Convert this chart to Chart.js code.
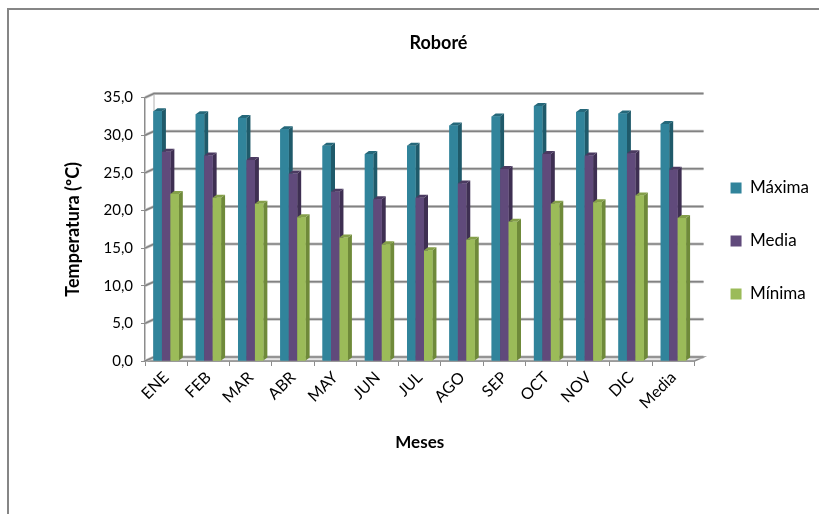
<!DOCTYPE html>
<html>
<head>
<meta charset="utf-8">
<script src="https://cdn.jsdelivr.net/npm/chart.js@4.4.1/dist/chart.umd.min.js"></script>
<style>
  html, body { margin: 0; padding: 0; background: #ffffff; }
  #wrap { width: 819px; height: 514px; position: relative; }
</style>
</head>
<body>
<div id="wrap"><canvas id="c" width="819" height="514"></canvas></div>
<script>
// Monthly temperatures for Roboré (ºC)
const categories = ['ENE', 'FEB', 'MAR', 'ABR', 'MAY', 'JUN', 'JUL', 'AGO', 'SEP', 'OCT', 'NOV', 'DIC', 'Media'];
const maxima = [33.2, 32.8, 32.3, 30.8, 28.6, 27.5, 28.6, 31.3, 32.5, 33.9, 33.1, 32.9, 31.5];
const media  = [27.8, 27.3, 26.7, 24.9, 22.5, 21.5, 21.7, 23.6, 25.5, 27.5, 27.3, 27.6, 25.4];
const minima = [22.2, 21.7, 20.9, 19.1, 16.4, 15.5, 14.7, 16.1, 18.5, 20.9, 21.1, 22.0, 19.0];
const seriesNames = ['Máxima', 'Media', 'Mínima'];

const FONT = 'Lato, "Liberation Sans", sans-serif';
const frontColors = ['#31849b', '#604a7b', '#9bbb59'];
const sideColors  = ['#1f5a6a', '#3e2f52', '#6f8a3a'];
const capColors   = ['#25687a', '#4b3a61', '#849f49'];
const DX = 9, DY = -4;   // depth offset of the 3D walls
const BD = 4, BDY = -3;  // depth offset of each column

// Frame around the chart (left and top edges)
const framePlugin = {
  id: 'frame',
  beforeDraw(chart) {
    const ctx = chart.ctx;
    ctx.save();
    ctx.strokeStyle = '#868686';
    ctx.lineWidth = 2;
    ctx.beginPath();
    ctx.moveTo(8, 514);
    ctx.lineTo(8, 9);
    ctx.lineTo(819, 9);
    ctx.stroke();
    ctx.restore();
  }
};

// Back wall gridlines and floor
const wallPlugin = {
  id: 'wall',
  beforeDatasetsDraw(chart) {
    const ctx = chart.ctx;
    const a = chart.chartArea;
    const y = chart.scales.y;
    ctx.save();
    // floor
    ctx.fillStyle = '#e6e6e6';
    ctx.beginPath();
    ctx.moveTo(a.left, a.bottom);
    ctx.lineTo(a.left + DX, a.bottom + DY);
    ctx.lineTo(a.right + DX, a.bottom + DY);
    ctx.lineTo(a.right, a.bottom);
    ctx.closePath();
    ctx.fill();
    ctx.strokeStyle = '#8c8c8c';
    ctx.lineWidth = 1.5;
    ctx.stroke();
    // left wall edge
    ctx.beginPath();
    ctx.moveTo(a.left + DX, a.bottom + DY);
    ctx.lineTo(a.left + DX, a.top + DY);
    ctx.strokeStyle = '#b0b0b0';
    ctx.lineWidth = 1;
    ctx.stroke();
    // gridlines
    y.ticks.forEach(t => {
      const py = y.getPixelForValue(t.value);
      ctx.beginPath();
      ctx.moveTo(a.left, py);
      ctx.lineTo(a.left + DX, py + DY);
      ctx.lineTo(a.right + DX, py + DY);
      ctx.strokeStyle = '#c8c8c8';
      ctx.lineWidth = 3;
      ctx.stroke();
      ctx.strokeStyle = '#828282';
      ctx.lineWidth = 1.5;
      ctx.stroke();
    });
    ctx.restore();
  }
};

// Side and top faces of the columns, drawn category by category
const columnPlugin = {
  id: 'columns3d',
  afterDatasetsDraw(chart) {
    const ctx = chart.ctx;
    ctx.save();
    const n = chart.data.labels.length;
    for (let i = 0; i < n; i++) {
      chart.data.datasets.forEach((ds, k) => {
        const el = chart.getDatasetMeta(k).data[i];
        if (!el) return;
        const p = el.getProps(['x', 'y', 'base', 'width'], true);
        const l = p.x - p.width / 2, r = p.x + p.width / 2;
        // side
        ctx.fillStyle = sideColors[k];
        ctx.beginPath();
        ctx.moveTo(r, p.y);
        ctx.lineTo(r + BD, p.y + BDY);
        ctx.lineTo(r + BD, p.base + BDY);
        ctx.lineTo(r, p.base);
        ctx.closePath();
        ctx.fill();
        // top
        ctx.fillStyle = capColors[k];
        ctx.beginPath();
        ctx.moveTo(l, p.y);
        ctx.lineTo(l + BD, p.y + BDY);
        ctx.lineTo(r + BD, p.y + BDY);
        ctx.lineTo(r, p.y);
        ctx.closePath();
        ctx.fill();
        // front
        ctx.fillStyle = frontColors[k];
        ctx.fillRect(l, p.y, p.width, p.base - p.y);
      });
    }
    ctx.restore();
  }
};

const values = [maxima, media, minima];
new Chart(document.getElementById('c'), {
  type: 'bar',
  data: {
    labels: categories,
    datasets: seriesNames.map((name, k) => ({
      label: name,
      data: values[k],
      backgroundColor: frontColors[k],
      borderWidth: 0,
      categoryPercentage: 0.6,
      barPercentage: 1.0
    }))
  },
  options: {
    responsive: false,
    animation: false,
    devicePixelRatio: 1,
    layout: { padding: { top: 24, left: 58, right: 0, bottom: 56 } },
    plugins: {
      title: {
        display: true,
        text: 'Roboré',
        color: '#000',
        font: { family: FONT, size: 18, weight: 'bold' },
        padding: { top: 8, bottom: 44 }
      },
      legend: {
        position: 'right',
        labels: {
          color: '#000',
          font: { family: FONT, size: 17 },
          boxWidth: 11,
          boxHeight: 11,
          padding: 36
        }
      },
      tooltip: { enabled: false }
    },
    scales: {
      x: {
        grid: { display: true, drawOnChartArea: false, drawTicks: true, tickLength: 5, color: '#8c8c8c', offset: true },
        border: { display: true, color: '#8c8c8c', width: 1.5 },
        ticks: { color: '#000', font: { family: FONT, size: 16 }, minRotation: 45, maxRotation: 45, autoSkip: false, padding: 2 },
        title: { display: true, text: 'Meses', color: '#000', font: { family: FONT, size: 17, weight: 'bold' }, padding: { top: 0, bottom: 5 } },
        afterFit(s) { s.height = 97; }
      },
      y: {
        min: 0,
        max: 35,
        grid: { display: true, drawOnChartArea: false, drawTicks: true, tickLength: 4, color: '#8c8c8c' },
        border: { display: true, color: '#8c8c8c', width: 1.5 },
        ticks: {
          stepSize: 5,
          color: '#000',
          font: { family: FONT, size: 15 },
          padding: 8,
          callback: v => v.toFixed(1).replace('.', ',')
        },
        title: { display: true, text: 'Temperatura (ºC)', color: '#000', font: { family: FONT, size: 18, weight: 'bold' }, padding: { top: 4, bottom: 0 } },
        afterFit(s) { s.width = 87; }
      }
    }
  },
  plugins: [framePlugin, wallPlugin, columnPlugin]
});
</script>
</body>
</html>
